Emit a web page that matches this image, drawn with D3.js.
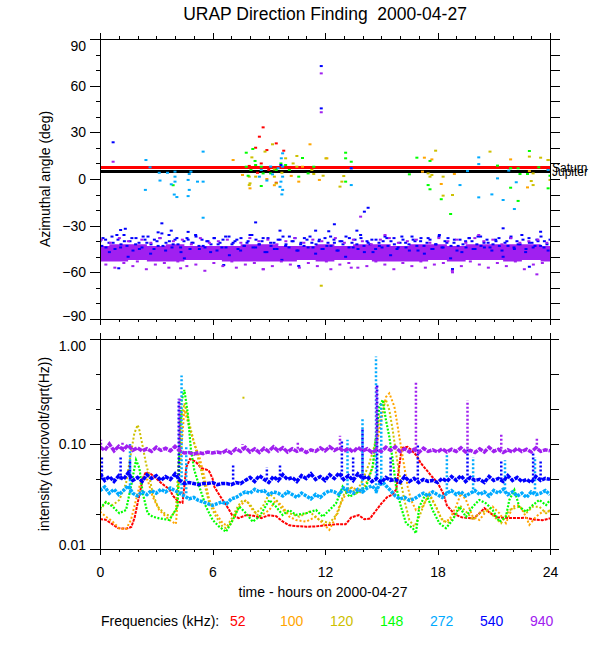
<!DOCTYPE html>
<html><head><meta charset="utf-8">
<script src="https://cdn.jsdelivr.net/npm/d3@7"></script>
<style>
body{margin:0;background:#fff}
svg{display:block}
text{font-family:"Liberation Sans",Arial,Helvetica,sans-serif;fill:#000}
</style>
</head><body>
<svg id="c" width="600" height="650"></svg>
<script>
// ---------------- DATA ----------------
const titleText = "URAP Direction Finding  2000-04-27";
const xTitle = "time - hours on 2000-04-27";
const yTitleTop = "Azimuthal angle (deg)";
const yTitleBot = "intensity (microvolt/sqrt(Hz))";
const hourTicks = [0, 6, 12, 18, 24];
const hourMinor = [0,1,2,3,4,5,6,7,8,9,10,11,12,13,14,15,16,17,18,19,20,21,22,23,24];
const azTicks = [-90, -60, -30, 0, 30, 60, 90];
const azMinor = [-90,-80,-70,-60,-50,-40,-30,-20,-10,0,10,20,30,40,50,60,70,80,90];
const intTicks = [0.01, 0.1, 1];
const intTickLabels = ["0.01", "0.10", "1.00"];
const intMinor = [0.01, 0.0215, 0.0464, 0.1, 0.215, 0.464, 1];
const freqLabels = ["52", "100", "120", "148", "272", "540", "940"];
const freqColors = ["#ff0000", "#ffa500", "#cdc000", "#00ff00", "#00aaff", "#0000ff", "#a020f0"];
const planets = ["Saturn", "Jupiter"];
const planetAz = [7.4, 4.8];
const planetColors = ["#ff0000", "#000000"];

// top panel: purple 940 kHz dense core (hourly upper / lower edges, deg)
const coreUpper = [-43,-42,-42,-43,-42,-43,-43,-43,-42,-42,-43,-43,-42,-43,-42,-42,-43,-42,-42,-43,-42,-42,-42,-42,-43];
const coreLower = [-53,-53,-52,-53,-53,-52,-52,-53,-53,-53,-53,-52,-53,-52,-52,-53,-53,-53,-52,-53,-52,-52,-53,-52,-53];
// top panel: 540 kHz azimuths (regular sampling)
const blueAzA = [-40,-38,-44,-41,-37,-45,-39,-42,-36,-43,-40,-46,-38,-41,-44,-39,-37,-42,-45,-40,
-38,-43,-41,-36,-44,-39,-42,-47,-40,-38,-45,-41,-37,-43,-39,-44,-40,-42,-38,-46,
-41,-39,-44,-37,-42,-40,-45,-38,-43,-41,-36,-44,-39,-42,-40,-47,-38,-43,-41,-45,
-39,-37,-42,-44,-40,-38,-46,-41,-43,-39,-37,-44,-42,-40,-45,-38,-41,-43,-39,-46,
-40,-42,-37,-44,-41,-39,-45,-38,-43,-40,-42,-47,-39,-41,-44,-37,-43,-40,-38,-45,
-41,-39,-44,-42,-37,-40,-46,-38,-43,-41,-39,-45,-42,-37,-44,-40,-38,-43,-41,-46,
-39,-42,-44,-38,-40,-45,-37,-43,-41,-39,-44,-42,-40,-38,-46,-41,-43,-37,-44,-40,
-42,-39,-45,-38,-41,-43,-40,-37,-44,-42,-39];
const blueAzB = [-43,-39,-47,-41,-36,-44,-40,-50,-38,-42,-45,-37,-41,-48,-39,-43,-35,-46,-40,-42,
-38,-44,-51,-39,-41,-36,-45,-43,-40,-47,-38,-42,-44,-37,-49,-41,-39,-46,-43,-40,
-36,-44,-42,-38,-47,-41,-45,-39,-52,-43,-37,-40,-46,-42,-38,-44,-41,-48,-39,-45,
-43,-37,-41,-46,-40,-50,-38,-44,-42,-36,-47,-41,-39,-45,-43,-40,-38,-49,-42,-44,
-37,-41,-46,-39,-43,-40,-48,-38,-45,-42,-36,-44,-41,-51,-39,-43,-47,-40,-38,-45,
-42,-37,-44,-41,-46,-39,-43,-50,-40,-38,-45,-42,-36,-47,-41,-44,-39,-43,-40,-46];
// top panel: 940 kHz outliers around the core (regular sampling)
const purpleAzOut = [-39,-55,-41,-57,-38,-54,-40,-56,-53,-39,-58,-41,-55,-38,-54,-57,-40,-53,-39,-56,
-42,-55,-38,-59,-41,-54,-40,-56,-39,-53,-57,-41,-55,-38,-54,-40,-58,-39,-56,-42,
-53,-40,-55,-38,-57,-41,-54,-39,-56,-40,-53,-58,-38,-55,-41,-54,-39,-57,-40,-56,
-42,-53,-39,-55,-38,-58,-41,-54,-40,-56,-39,-53,-57,-41,-55,-38,-54,-40,-59,-39,
-56,-41,-53,-38,-55,-40,-57,-39,-54,-42,-56,-38,-53,-41,-58,-40,-55,-39,-54,-41];
// top panel: individual points [hour, deg]
const redAz = [[8.7,33.2],[8.5,27.2],[8.3,20.1],[8.9,18.6],[9.4,22.9],[7.96,8.4],[8.3,7.9],[8.6,10],[9.0,5.8],[9.8,18.2],[9.4,-2.4],[8.4,4],[23.9,5.8]];
const orangeAz = [[7.1,12.2],[11.2,22.3],[10.8,7.9],[10.6,-1.7],[11.7,-0.6],[17.3,13.7],[17.7,12.6],[17.2,4.7],[18.2,-3.2],[18.9,3.2],[21.9,12.6],[22.8,-5.4],[23.9,12.2],[22.9,5.1],[8.0,-6],[8.9,0],[7.6,2.6],[12.1,13.3],[9.3,-4],[10.2,2]];
const yellowAz = [[8.8,17.6],[9.2,22.3],[8.1,13.9],[7.96,1.5],[7.96,-3.9],[8.3,1.5],[9.3,1.5],[9.4,-2.8],[9.3,6.2],[9.9,13.3],[10.5,14.8],[10.5,7.9],[11.3,5.8],[12.05,13.3],[11.9,2.1],[11.4,3.2],[13.0,1.9],[12.8,-4.9],[12.9,-1.7],[17.5,3.6],[17.6,1.5],[17.7,2.6],[17.9,18.2],[18.3,1.5],[18.8,-10.3],[18.3,-10.7],[20.8,17.6],[22.9,14.4],[23.1,3.6],[23.0,-1.3],[23.1,-3.9],[23.5,13.7],[23.9,12.2],[24,-0.6],[8.0,-2.8],[11.8,-68.6],[9.7,4],[10.3,10]];
const greenAz = [[7.8,16.9],[8.15,19.3],[8.27,11.6],[7.8,7.9],[7.9,2.1],[8.05,5.8],[8.3,9],[8.6,7.9],[8.7,3.6],[8.6,-4.5],[9.1,3.6],[9.4,5.8],[9.65,10],[9.9,9],[10.1,5.8],[10.8,13.5],[10.6,1.5],[11.1,3.6],[11.4,7.9],[13.1,16.9],[13.1,13.3],[13.4,11.1],[13.1,-1.7],[16.9,13.7],[17.6,11.6],[17.5,-3.9],[17.6,-6.6],[16.5,3],[18.2,-13],[18.7,-22.5],[21.2,8.6],[21.9,6.9],[21.9,-5.6],[22.3,6.9],[22.4,3.2],[22.9,18],[22.8,3.2],[23.4,7.5],[24,2.1],[23.9,-6],[22.3,-14.1],[3.9,-4]];
const lightBlueAz = [[2.67,7.5],[3.16,4],[3.2,-1],[3.6,4],[4.0,4.7],[4.0,1.5],[4.0,-1.7],[3.8,-3.4],[4.76,3.2],[4.7,-0.6],[4.76,-7],[4.7,-11],[3.96,-10],[4.1,-11.6],[2.42,-7],[5.5,-1.7],[5.5,17.6],[5.5,-24.9],[5.2,-1.7],[2.45,12.2],[4.85,4.7],[9.74,16.5],[9.67,13.3],[9.74,8],[9.74,1.5],[9.65,-1.7],[9.74,-7],[9.7,-9.9],[9.6,-5],[8.5,1.5],[8.6,5.8],[9.1,8],[9.5,6.9],[13.4,-3.9],[13.4,6.9],[20.2,13.9],[20.2,9.6],[19.6,5.1],[19.2,-3.9],[20.2,-11.8],[21.2,0.4],[20.9,-9.9],[21.5,-13.5],[21.8,5.4],[22.2,-2.1],[22.1,-19.3],[23.9,5.8],[9.2,3],[8.9,-1]];
const blueAz = [[0.7,23.6],[11.8,72.6],[11.8,45.4],[13.4,6.9],[9.65,9],[14.1,-21],[12.5,-29.1],[8.3,-27.9],[3.3,-28.5],[1.1,-32.8],[1.35,-32],[3.1,-34.3],[3.8,-33.2],[4.7,-34],[9.6,-33.2],[11.5,-33.2],[12.2,-33.6],[13.7,-33.2],[21.5,-31.7],[23.5,-33.9],[18.8,-57.9],[10.6,-55.9],[6.6,-55.3],[1.0,-57.4],[22.9,-56.4],[14.3,-18.5]];
const purpleAz = [[11.8,67.9],[11.8,42.9],[0.7,11.1],[13.9,-24.2],[18.8,-60],[23.3,-61.3],[13.4,-57],[8.7,-58],[4.3,-57.4],[15.2,-36],[20.2,-36]];

// bottom panel: smooth-ish curves [hour, intensity]
const int52 = [[0,0.0193],[0.3,0.019],[0.6,0.0175],[0.96,0.0158],[1.4,0.0156],[1.67,0.0162],[1.85,0.02],[2.0,0.027],[2.15,0.036],[2.3,0.048],[2.45,0.054],[2.7,0.052],[3.0,0.047],[3.3,0.042],[3.7,0.037],[3.9,0.032],[4.2,0.028],[4.4,0.0275],[4.5,0.04],[4.6,0.06],[4.8,0.072],[5.1,0.068],[5.4,0.059],[5.8,0.056],[6.0,0.047],[6.1,0.039],[6.4,0.032],[6.8,0.025],[7.05,0.021],[7.4,0.0197],[7.8,0.021],[8.2,0.0207],[8.6,0.0197],[9.0,0.021],[9.4,0.0205],[9.7,0.0185],[10.1,0.0168],[10.5,0.0165],[11.0,0.0163],[11.5,0.0164],[12.0,0.0168],[12.6,0.0172],[13.1,0.0172],[13.4,0.020],[13.8,0.021],[14.1,0.0192],[14.4,0.0195],[14.7,0.023],[15.0,0.027],[15.3,0.031],[15.6,0.033],[15.8,0.037],[15.95,0.06],[16.1,0.092],[16.4,0.094],[16.6,0.088],[16.9,0.077],[17.1,0.066],[17.4,0.057],[17.7,0.049],[18.0,0.043],[18.3,0.034],[18.5,0.026],[18.9,0.0215],[19.3,0.02],[19.9,0.0195],[20.2,0.0215],[20.5,0.0245],[20.8,0.022],[21.2,0.02],[21.8,0.0197],[22.7,0.0198],[23.2,0.019],[23.6,0.0188],[24,0.0196]];
const int100 = [[0,0.0227],[0.32,0.0203],[0.68,0.0182],[1.03,0.0157],[1.39,0.0155],[1.65,0.0189],[1.92,0.0293],[2.10,0.0392],[2.28,0.0489],[2.54,0.0454],[2.81,0.0315],[3.16,0.0235],[3.70,0.0189],[4.05,0.0173],[4.32,0.0815],[4.50,0.211],[4.76,0.146],[5.03,0.101],[5.30,0.0757],[5.56,0.0489],[5.83,0.0293],[6.19,0.0219],[6.54,0.0176],[6.90,0.0163],[7.16,0.0203],[7.43,0.0253],[7.79,0.0293],[8.14,0.0235],[8.50,0.0203],[9.03,0.0235],[9.39,0.0293],[9.74,0.0253],[10.10,0.0203],[10.45,0.0189],[10.99,0.0182],[11.52,0.0203],[11.88,0.0176],[12.23,0.0152],[12.50,0.0189],[12.76,0.0253],[13.12,0.0339],[13.48,0.0392],[13.83,0.0339],[14.19,0.0422],[14.54,0.0608],[14.90,0.136],[15.25,0.28],[15.43,0.304],[15.70,0.227],[15.88,0.146],[16.05,0.0944],[16.23,0.0608],[16.41,0.0392],[16.59,0.0293],[16.85,0.0235],[17.21,0.0253],[17.56,0.0339],[17.92,0.0253],[18.28,0.0182],[18.63,0.0189],[18.99,0.0253],[19.25,0.0339],[19.52,0.0293],[19.88,0.0203],[20.23,0.0189],[20.59,0.0227],[20.94,0.0253],[21.30,0.0219],[21.65,0.0176],[22.01,0.0253],[22.36,0.0262],[22.72,0.0203],[22.90,0.017],[23.25,0.0203],[23.61,0.0227],[24,0.0227]];
const int120 = [[0,0.0235],[0.32,0.028],[0.68,0.0262],[1.03,0.0293],[1.39,0.0422],[1.65,0.0815],[1.83,0.126],[2.01,0.152],[2.10,0.136],[2.28,0.0944],[2.45,0.0655],[2.63,0.0489],[2.81,0.0339],[3.08,0.0253],[3.43,0.0219],[3.79,0.0203],[4.05,0.0235],[4.32,0.169],[4.50,0.244],[4.68,0.182],[4.85,0.136],[5.03,0.101],[5.30,0.0655],[5.56,0.0422],[5.83,0.0272],[6.19,0.0203],[6.54,0.0163],[6.72,0.0158],[7.08,0.0203],[7.34,0.0253],[7.61,0.0293],[7.96,0.0272],[8.32,0.0219],[8.68,0.0253],[9.03,0.0339],[9.39,0.0293],[9.74,0.0235],[10.10,0.0219],[10.63,0.0203],[11.16,0.0227],[11.70,0.0189],[12.23,0.0176],[12.68,0.0219],[12.94,0.0315],[13.30,0.0392],[13.65,0.0339],[14.01,0.0454],[14.36,0.0655],[14.63,0.0944],[14.90,0.169],[15.08,0.244],[15.25,0.263],[15.43,0.211],[15.61,0.136],[15.79,0.0815],[15.96,0.0526],[16.23,0.0293],[16.50,0.0189],[16.76,0.0163],[17.03,0.0203],[17.30,0.0272],[17.56,0.0327],[17.92,0.0253],[18.19,0.0196],[18.54,0.0176],[18.90,0.0203],[19.25,0.0253],[19.61,0.0219],[19.88,0.0189],[20.23,0.0219],[20.68,0.0235],[21.03,0.0203],[21.39,0.0176],[21.83,0.0235],[22.36,0.0253],[22.72,0.0219],[23.08,0.0253],[23.43,0.0253],[23.79,0.0219],[24,0.0235]];
const int148 = [[0,0.0244],[0.32,0.028],[0.68,0.0253],[1.03,0.0219],[1.39,0.0235],[1.65,0.0392],[1.92,0.0705],[2.10,0.059],[2.28,0.0339],[2.54,0.0219],[2.81,0.0203],[3.16,0.0196],[3.70,0.0189],[4.14,0.0253],[4.32,0.244],[4.50,0.327],[4.68,0.196],[4.85,0.0877],[5.03,0.0565],[5.30,0.0392],[5.65,0.0253],[6.01,0.0189],[6.36,0.0163],[6.72,0.0146],[7.08,0.0189],[7.43,0.0253],[7.79,0.0219],[8.14,0.0182],[8.50,0.0203],[9.03,0.0293],[9.39,0.0253],[9.74,0.0211],[10.10,0.0235],[10.45,0.0211],[10.99,0.0219],[11.52,0.0235],[11.88,0.0203],[12.59,0.0272],[12.94,0.0392],[13.30,0.0315],[13.65,0.0339],[14.19,0.0392],[14.54,0.0608],[14.90,0.227],[15.08,0.263],[15.25,0.169],[15.43,0.117],[15.61,0.0705],[15.79,0.0392],[16.05,0.0253],[16.32,0.0176],[16.68,0.0158],[16.85,0.0141],[17.03,0.0253],[17.39,0.0339],[17.74,0.0235],[18.10,0.0176],[18.45,0.0158],[18.81,0.0189],[19.16,0.0253],[19.52,0.0203],[19.88,0.0253],[20.23,0.0293],[20.59,0.0272],[20.94,0.0235],[21.30,0.0182],[21.65,0.0203],[21.83,0.0293],[22.10,0.0365],[22.36,0.0253],[22.72,0.0227],[23.08,0.0262],[23.43,0.0293],[23.79,0.0262],[24,0.0293]];
// bottom panel: noisy bands sampled every 0.25 h
const int272 = [0.036,0.039,0.034,0.037,0.033,0.036,0.04,
0.034,0.032,0.035,0.033,0.036,0.034,0.037,0.035,0.038,0.036,0.034,
0.032,0.03,0.031,0.029,0.028,0.027,0.026,0.027,
0.028,0.027,0.03,0.031,0.033,0.035,0.034,0.037,0.035,0.036,0.033,0.035,0.034,
0.032,0.035,0.033,0.031,0.034,0.032,0.03,0.033,0.031,0.034,0.036,0.035,0.033,0.038,
0.036,0.034,0.037,0.035,0.038,0.04,0.036,0.045,
0.04,0.036,0.032,0.03,0.031,0.029,0.03,0.032,
0.034,0.032,0.035,0.033,0.031,0.034,0.036,0.033,0.035,0.032,0.034,0.036,
0.033,0.035,0.032,0.036,0.034,0.037,0.033,0.035,0.032,0.034,0.031,0.035,0.033,0.034,0.036,0.033];
const int540 = [0.052,0.045,0.049,0.044,0.05,0.046,0.053,0.045,0.048,0.044,0.051,0.047,0.05,0.045,0.049,0.046,0.052,0.045,
0.042,0.043,0.042,0.041,0.042,0.042,0.043,0.041,0.042,0.042,0.041,0.043,0.042,
0.045,0.048,0.044,0.05,0.046,0.043,0.049,0.045,0.051,0.046,0.048,
0.044,0.05,0.047,0.052,0.046,0.049,0.045,0.051,0.047,0.053,0.046,
0.05,0.045,0.052,0.047,0.049,0.044,0.047,0.043,0.048,0.045,0.046,
0.043,0.049,0.044,0.047,0.043,0.046,0.044,0.045,0.043,0.047,0.044,
0.049,0.045,0.05,0.044,0.048,0.045,0.046,0.043,0.049,0.045,0.047,
0.044,0.05,0.045,0.048,0.044,0.046,0.043,0.049,0.045,0.047,0.046];
const int940 = [0.094,0.087,0.1,0.086,0.095,0.088,0.098,0.087,0.092,0.086,0.09,0.085,0.093,0.087,0.091,0.086,0.095,
0.086,0.082,0.083,0.08,0.083,0.081,0.084,0.082,
0.084,0.082,0.087,0.082,0.09,0.085,0.093,0.084,0.09,0.083,0.091,0.085,0.094,0.086,0.092,0.084,0.09,0.085,0.089,0.083,0.088,0.085,0.092,0.086,
0.094,0.087,0.092,0.085,0.091,0.084,0.093,0.086,0.09,0.083,0.088,0.085,0.093,0.087,0.094,0.085,0.09,0.084,0.089,0.083,0.091,0.085,0.088,0.084,
0.09,0.084,0.089,0.085,0.092,0.084,0.087,0.083,0.09,0.084,0.093,0.085,0.089,0.083,0.088,0.084,0.091,0.085,0.089,0.084,0.092,0.085,0.088,0.086];
// bottom panel: bursts [hour, low, high]
const burst272 = [[1.6,0.034,0.1],[4.35,0.034,0.45],[4.6,0.034,0.095],[13.2,0.034,0.11],[14.0,0.034,0.18],[14.72,0.034,0.68],[15.0,0.04,0.25],[18.5,0.034,0.08],[19.9,0.034,0.075],[21.6,0.034,0.07],[23.2,0.034,0.075]];
const burst540 = [[0.1,0.046,0.075],[1.1,0.046,0.075],[1.6,0.046,0.07],[4.2,0.046,0.27],[7.1,0.046,0.065],[8.9,0.046,0.06],[9.6,0.046,0.065],[12.9,0.046,0.11],[13.5,0.046,0.075],[14.0,0.046,0.14],[14.78,0.05,0.36],[15.5,0.046,0.075],[16.95,0.046,0.1],[19.6,0.046,0.09],[21.4,0.046,0.07],[23.1,0.046,0.085],[23.5,0.046,0.07]];
const burst940 = [[0.05,0.09,0.11],[1.2,0.09,0.105],[4.25,0.09,0.27],[7.6,0.09,0.1],[10.55,0.09,0.105],[12.8,0.09,0.12],[14.75,0.09,0.36],[16.85,0.09,0.4],[19.6,0.09,0.26],[21.4,0.09,0.126],[23.3,0.09,0.117]];
const isolated120 = [[7.65,0.276]];

// ---------------- DRAWING ----------------
const svg = d3.select("#c");
const X = d3.scaleLinear().domain([0, 24]).range([100, 550]);
const YA = d3.scaleLinear().domain([-90, 90]).range([319, 39]);
const YI = d3.scaleLog().domain([0.01, 1]).range([549, 339]);
const FS = 14;

const defs = svg.append("defs");
defs.append("clipPath").attr("id","cpTop").append("rect").attr("x",X(0)).attr("y",YA(90)).attr("width",X(24)-X(0)).attr("height",YA(-90)-YA(90));
defs.append("clipPath").attr("id","cpBot").append("rect").attr("x",X(0)).attr("y",YI(1)).attr("width",X(24)-X(0)).attr("height",YI(0.01)-YI(1));

// title (keep the double space)
svg.append("text").attr("x", 325).attr("y", 20).attr("text-anchor","middle").attr("font-size",17.5)
  .attr("xml:space","preserve").style("white-space","pre").text(titleText);

// ---- top panel marks
const gT = svg.append("g").attr("clip-path","url(#cpTop)");
planetAz.forEach((a,i)=>{
  gT.append("line").attr("x1",X(0)).attr("x2",X(24)).attr("y1",YA(a)).attr("y2",YA(a))
    .attr("stroke",planetColors[i]).attr("stroke-width",3);
});
function dotsAz(pts, color){
  gT.append("g").selectAll("rect").data(pts).join("rect")
    .attr("x", d=>X(d[0])-1.5).attr("y", d=>YA(d[1])-1).attr("width",3).attr("height",2).attr("fill",color);
}
dotsAz(redAz, freqColors[0]);
dotsAz(orangeAz, freqColors[1]);
dotsAz(yellowAz, freqColors[2]);
dotsAz(greenAz, freqColors[3]);
dotsAz(lightBlueAz, freqColors[4]);
// core band of 940
const coreData = coreUpper.map((u,i)=>({t:i, u:u, l:coreLower[i]}));
gT.append("path").datum(coreData)
  .attr("d", d3.area().x(d=>X(d.t)).y0(d=>YA(d.l)).y1(d=>YA(d.u)).curve(d3.curveStep))
  .attr("fill", freqColors[6]);
dotsAz(blueAzA.map((a,i)=>[i*24/(blueAzA.length-1), a]), freqColors[5]);
dotsAz(blueAzB.map((a,i)=>[(i+0.5)*24/blueAzB.length, a]), freqColors[5]);
dotsAz(blueAz, freqColors[5]);
dotsAz(purpleAzOut.map((a,i)=>[(i+0.3)*24/purpleAzOut.length, a]), freqColors[6]);
dotsAz(purpleAz, freqColors[6]);

// ---- bottom panel marks
const gB = svg.append("g").attr("clip-path","url(#cpBot)");
const lineI = d3.line().x(d=>X(d[0])).y(d=>YI(d[1]));
function curve(pts, color, w, dash){
  gB.append("path").datum(pts).attr("d", lineI).attr("fill","none")
    .attr("stroke", color).attr("stroke-width", w).attr("stroke-dasharray", dash);
}
function bursts(b, color){
  gB.append("g").selectAll("line").data(b).join("line")
    .attr("x1", d=>X(d[0])).attr("x2", d=>X(d[0]))
    .attr("y1", d=>YI(d[1])).attr("y2", d=>YI(d[2]))
    .attr("stroke", color).attr("stroke-width", 2.5).attr("stroke-dasharray","2,2");
}
const grid = arr => arr.map((v,i)=>[i*24/(arr.length-1), v]);
curve(int52, freqColors[0], 2, "3,1");
curve(int100, freqColors[1], 2, "2,2");
curve(int120, freqColors[2], 2, "2,2");
curve(int148, freqColors[3], 2.2, "2,1.5");
gB.append("g").selectAll("rect").data(isolated120).join("rect")
  .attr("x", d=>X(d[0])-1).attr("y", d=>YI(d[1])-1).attr("width",2).attr("height",2).attr("fill",freqColors[2]);
bursts(burst272, freqColors[4]);
curve(grid(int272), freqColors[4], 3.5, "3,1");
bursts(burst540, freqColors[5]);
curve(grid(int540), freqColors[5], 3.5, "4,1");
bursts(burst940, freqColors[6]);
curve(grid(int940), freqColors[6], 3.5, "5,1");

// ---- axes
function styleAxis(g){
  g.select(".domain").remove();
  g.selectAll("line").attr("stroke","#000").attr("shape-rendering","crispEdges");
  g.selectAll("text").attr("font-size",FS).attr("font-family",'"Liberation Sans",Arial,sans-serif').attr("fill","#000");
  g.attr("font-family",null).attr("font-size",null);
}
function xTicks(y, dir, labels){
  const mk = dir==="top" ? d3.axisTop : d3.axisBottom;
  svg.append("g").attr("transform",`translate(0,${y})`)
    .call(mk(X).tickValues(hourMinor).tickSize(3).tickFormat("")).call(styleAxis);
  svg.append("g").attr("transform",`translate(0,${y})`)
    .call(mk(X).tickValues(hourTicks).tickSize(6).tickPadding(12).tickFormat(labels ? d3.format("d") : "")).call(styleAxis);
}
xTicks(YA(90), "top", false);
xTicks(YA(-90), "bottom", false);
xTicks(YI(1), "top", false);
xTicks(YI(0.01), "bottom", true);

// left / right y axes, top panel
svg.append("g").attr("transform",`translate(${X(0)},0)`)
  .call(d3.axisLeft(YA).tickValues(azMinor).tickSize(4).tickFormat("")).call(styleAxis);
svg.append("g").attr("transform",`translate(${X(0)},0)`)
  .call(d3.axisLeft(YA).tickValues(azTicks).tickSize(10).tickPadding(4).tickFormat(d3.format("d"))).call(styleAxis)
  .selectAll("text").attr("dy", d => d===90 ? "0.82em" : d===-90 ? "0.1em" : "0.32em");
svg.append("g").attr("transform",`translate(${X(24)},0)`)
  .call(d3.axisRight(YA).tickValues(azMinor).tickSize(10).tickFormat("")).call(styleAxis);

// left / right y axes, bottom panel
svg.append("g").attr("transform",`translate(${X(0)},0)`)
  .call(d3.axisLeft(YI).tickValues(intMinor).tickSize(4).tickFormat("")).call(styleAxis);
svg.append("g").attr("transform",`translate(${X(0)},0)`)
  .call(d3.axisLeft(YI).tickValues(intTicks).tickSize(10).tickPadding(4).tickFormat((d,i)=>intTickLabels[i])).call(styleAxis)
  .selectAll("text").attr("dy", d => d===1 ? "0.82em" : d===0.01 ? "0.05em" : "0.32em");
svg.append("g").attr("transform",`translate(${X(24)},0)`)
  .call(d3.axisRight(YI).tickValues(intMinor).tickSize(9).tickFormat("")).call(styleAxis);

// frames
[[YA(90),YA(-90)],[YI(1),YI(0.01)]].forEach(([a,b])=>{
  svg.append("rect").attr("x",X(0)+0.5).attr("y",a+0.5).attr("width",X(24)-X(0)).attr("height",b-a)
    .attr("fill","none").attr("stroke","#000").attr("stroke-width",1).attr("shape-rendering","crispEdges");
});

// planet labels (they overlap in the original as well)
planets.forEach((p,i)=>{
  svg.append("text").attr("x", X(24)+2).attr("y", YA(planetAz[i])+4.5).attr("font-size",12).text(p);
});

// axis titles
svg.append("text").attr("transform",`translate(50,${YA(0)}) rotate(-90)`).attr("text-anchor","middle").attr("font-size",FS).text(yTitleTop);
svg.append("text").attr("transform",`translate(49,${YI(0.1)}) rotate(-90)`).attr("text-anchor","middle").attr("font-size",FS).text(yTitleBot);
svg.append("text").attr("x", 323).attr("y", 597).attr("text-anchor","middle").attr("font-size",FS).text(xTitle);

// legend
svg.append("text").attr("x",101).attr("y",626).attr("font-size",FS).text("Frequencies (kHz):");
svg.append("g").selectAll("text").data(freqLabels).join("text")
  .attr("x",(d,i)=>230 + i*50).attr("y",626).attr("font-size",FS).style("fill",(d,i)=>freqColors[i]).text(d=>d);
</script>
</body></html>
